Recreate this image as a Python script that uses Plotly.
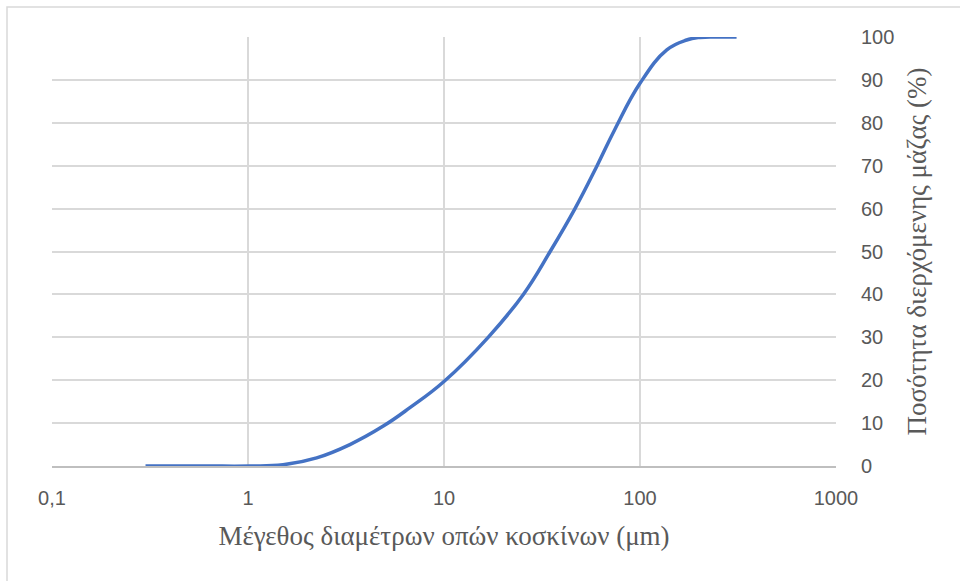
import plotly.graph_objects as go

# Sieve opening size (µm) and cumulative passing mass (%)
sizes_um = [0.3, 0.6, 1.02, 1.51, 2.24, 3.31, 4.9, 6.7, 10, 16.8, 25.4,
            34.8, 46.6, 60.4, 74.5, 100, 137, 173, 202, 250, 311]
passing_pct = [0, 0, 0, 0.3, 1.9, 5, 9.3, 13.6, 19.7, 30, 40,
               50, 60, 70, 78.5, 89.2, 97, 99.3, 99.9, 100, 100]

x_tickvals = [0.1, 1, 10, 100, 1000]
x_ticktext = ["0,1", "1", "10", "100", "1000"]
y_tickvals = list(range(0, 101, 10))

x_title = "Μέγεθος διαμέτρων οπών κοσκίνων (μm)"
y_title = "Ποσότητα διερχόμενης μάζας (%)"

fig = go.Figure()
fig.add_trace(go.Scatter(
    x=sizes_um, y=passing_pct, mode="lines",
    line=dict(color="#4472C4", width=3.5, shape="spline", smoothing=1.2),
    hoverinfo="x+y", showlegend=False,
))

L, R, T, B = 52, 124, 37, 115
W, H = 960, 581
pw, ph = W - L - R, H - T - B

tick_font = dict(family="Liberation Sans, Arial", size=20, color="#595959")
title_font = dict(family="Liberation Serif, Times New Roman", size=27, color="#595959")

fig.update_layout(
    width=W, height=H,
    margin=dict(l=L, r=R, t=T, b=B),
    paper_bgcolor="white", plot_bgcolor="white",
    xaxis=dict(
        type="log", range=[-1, 3],
        tickvals=x_tickvals, ticktext=x_ticktext,
        showgrid=True, gridcolor="#d9d9d9", gridwidth=1.5,
        showline=True, linecolor="#bfbfbf", linewidth=1.5,
        ticks="", ticklabelstandoff=13,
        tickfont=tick_font,
        title=dict(text=x_title, standoff=18, font=title_font),
        zeroline=False,
    ),
    yaxis=dict(
        range=[0, 100], side="right",
        tickvals=y_tickvals,
        showgrid=True, gridcolor="#d9d9d9", gridwidth=1.5,
        zeroline=False, showline=False,
        ticks="", ticklabelstandoff=24,
        tickfont=tick_font,
        title=dict(text=y_title, standoff=13, font=title_font),
    ),
    shapes=[dict(
        type="rect", xref="paper", yref="paper",
        x0=(7 - L) / pw, x1=(W + 20 - L) / pw,
        y0=(H - B - (H + 20)) / ph, y1=(H - B - 7) / ph,
        line=dict(color="#d9d9d9", width=1.5), fillcolor="rgba(0,0,0,0)",
        layer="below",
    )],
)

fig.write_html("out.html")
